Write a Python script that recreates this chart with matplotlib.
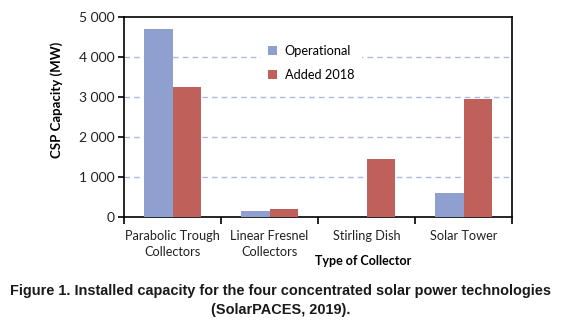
import matplotlib
matplotlib.use("Agg")
import matplotlib.pyplot as plt
import numpy as np
from matplotlib.ticker import FuncFormatter

categories = ["Parabolic Trough\nCollectors", "Linear Fresnel\nCollectors", "Stirling Dish", "Solar Tower"]
operational = [4690, 150, 0, 590]
added_2018 = [3240, 200, 1450, 2950]
y_ticks = [0, 1000, 2000, 3000, 4000, 5000]

blue = "#8E9FD0"
red = "#C0605B"
grid_c = "#A9BCE0"
tick_font = "Lato"

fig = plt.figure(figsize=(5.61, 3.30), dpi=100)
ax = fig.add_axes([124/561, 1-217/330, (512-124)/561, (217-17)/330])

x = np.arange(len(categories))
w = 0.29
ax.bar(x - w/2, operational, w, color=blue, label="Operational", zorder=3)
ax.bar(x + w/2, added_2018, w, color=red, label="Added 2018", zorder=3)

ax.set_xlim(-0.5, len(categories) - 0.5)
ax.set_ylim(0, 5000)
ax.set_yticks(y_ticks)
ax.yaxis.set_major_formatter(FuncFormatter(lambda v, p: f"{int(v):,}".replace(",", " ")))
ax.set_xticks(np.arange(len(categories) + 1) - 0.5)
ax.set_xticklabels([])
ax.set_xticks(x, minor=True)
ax.set_xticklabels(categories, minor=True, fontfamily=tick_font, fontsize=9.2, color="#222222",
                   linespacing=1.45)
ax.tick_params(axis="x", which="minor", length=0, pad=9)
ax.tick_params(axis="x", which="major", length=5, width=1.2, direction="out")
ax.tick_params(axis="y", length=4, width=1.2, direction="out", pad=3)
for lab in ax.get_yticklabels():
    lab.set_fontfamily(tick_font)
    lab.set_fontsize(10)
    lab.set_color("#222222")

for t in [1000, 2000, 3000, 4000]:
    ax.axhline(t, color=grid_c, lw=1.0, ls=(0, (4, 3)), zorder=1)

for s in ax.spines.values():
    s.set_linewidth(1.2)
    s.set_color("black")

leg = ax.legend(loc="upper left", bbox_to_anchor=(0.337, 0.925), frameon=True,
                prop={"family": tick_font, "size": 9.2}, handlelength=0.75, handleheight=0.75,
                labelspacing=0.95, handletextpad=0.6, borderpad=0.5)
leg.get_frame().set_edgecolor("white")
leg.get_frame().set_facecolor("white")
leg.get_frame().set_alpha(1)
leg.set_zorder(4)

fig.text(57/561, 1-100/330, "CSP Capacity (MW)", rotation=90, ha="center", va="center",
         fontfamily=tick_font, fontweight="bold", fontsize=9.5)
fig.text(363/561, 1-261/330, "Type of Collector", ha="center", va="center",
         fontfamily=tick_font, fontweight="bold", fontsize=9)

fig.text(0.5, 1-291/330, "Figure 1. Installed capacity for the four concentrated solar power technologies",
         ha="center", va="center", fontfamily="Liberation Sans", fontweight="bold", fontsize=10.45, color="#1a1a1a")
fig.text(0.5, 1-310/330, "(SolarPACES, 2019).",
         ha="center", va="center", fontfamily="Liberation Sans", fontweight="bold", fontsize=10.45, color="#1a1a1a")

fig.savefig("out.png", dpi=100, facecolor="white")
